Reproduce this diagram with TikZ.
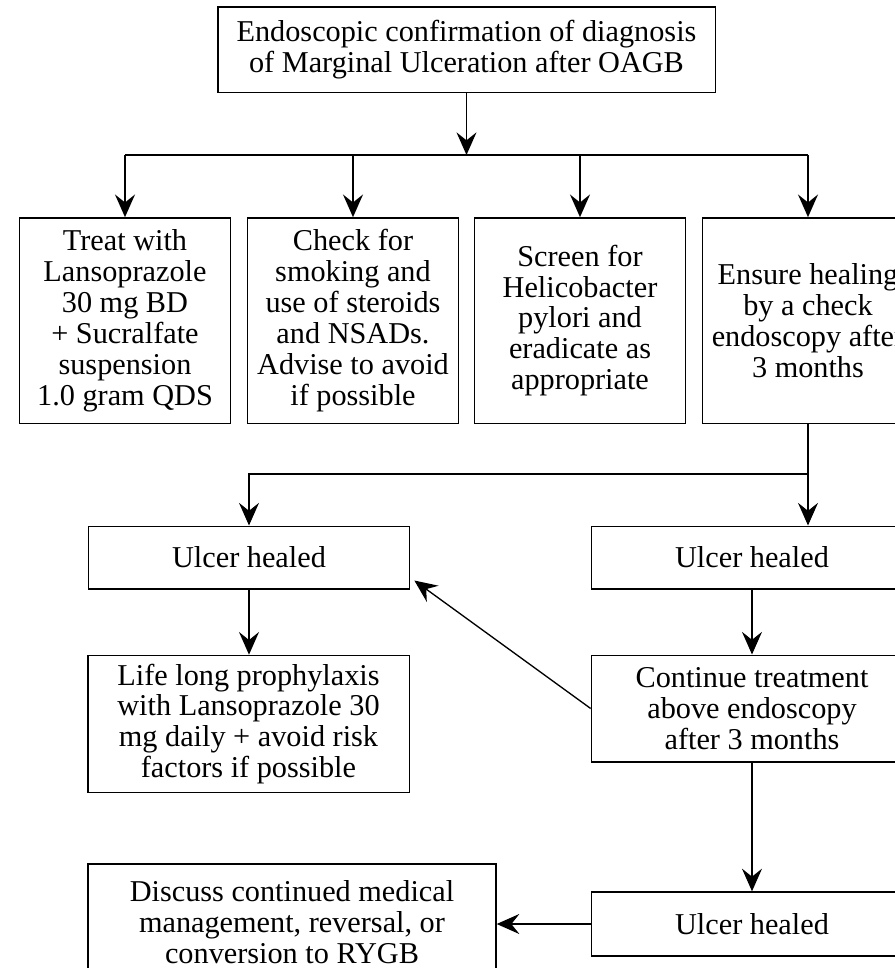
\documentclass[tikz,border=0pt]{standalone}
\usepackage{fontspec}
\setmainfont{Liberation Serif}
\usetikzlibrary{arrows.meta,calc}

\begin{document}
\begin{tikzpicture}[x=0.75pt, y=-0.75pt,
  font=\fontsize{22.7}{23.2}\selectfont,
  box/.style={draw, line width=1pt, align=center, inner sep=0pt},
  stepbox/.style={box, minimum width=158pt, minimum height=154pt},
  widebox/.style={box, minimum width=241pt},
  arr/.style={-{Stealth[length=17pt, width=15pt, inset=6pt]}, line width=1pt}]

% Page frame
\useasboundingbox (0,0) rectangle (894,968);

% Diagnosis
\node[box, minimum width=373pt, minimum height=64pt] (diag) at (466.5,49.5)
  {Endoscopic confirmation of diagnosis\\of Marginal Ulceration after OAGB};

% First steps
\node[stepbox] (treat) at (125,320.5)
  {Treat with\\Lansoprazole\\30 mg BD\\+ Sucralfate\\suspension\\1.0 gram QDS};
\node[stepbox] (smoke) at (353,320.5)
  {Check for\\smoking and\\use of steroids\\and NSADs.\\Advise to avoid\\if possible};
\node[stepbox] (screen) at (580,320.5)
  {Screen for\\Helicobacter\\pylori and\\eradicate as\\appropriate};
\node[stepbox] (ensure) at (808,320.5)
  {Ensure healing\\by a check\\endoscopy after\\3 months};

% Outcomes
\node[widebox, minimum height=47pt] (healL) at (249,557.5) {Ulcer healed};
\node[widebox, minimum height=47pt] (healR) at (752,557.5) {Ulcer healed};
\node[widebox, minimum height=103pt] (life) at (248.5,724)
  {Life long prophylaxis\\with Lansoprazole 30\\mg daily + avoid risk\\factors if possible};
\node[widebox, minimum height=80pt] (cont) at (752,708.5)
  {Continue treatment\\above endoscopy\\after 3 months};
\node[widebox, minimum height=48pt] (healB) at (752,924) {Ulcer healed};
\node[box, minimum width=306pt, minimum height=87pt] (discuss) at (292,922)
  {Discuss continued medical\\management, reversal, or\\conversion to RYGB};

% Branch to the first steps
\coordinate (bus) at (0,155);
\draw[arr] (diag) -- (diag |- bus);
\draw[line width=1pt] (treat |- bus) -- (ensure |- bus);
\foreach \n in {treat, smoke, screen, ensure}
  \draw[arr] (\n |- bus) -- (\n);

% Check endoscopy
\coordinate (split) at (0,474);
\draw[arr] (ensure) -- (ensure |- split) -| (healL);
\draw[arr] (ensure |- split) -- (ensure |- healR.north);

% Follow up
\draw[arr] (healL) -- (healL |- life.north);
\draw[arr] (healR) -- (cont);
\draw[arr] (cont) -- (healB);
\draw[arr] (cont.west) -- ($(healL.south east)+(4,-9)$); % back to healed
\draw[arr] (healB.west) -- (healB.west -| discuss.east);

\end{tikzpicture}
\end{document}
